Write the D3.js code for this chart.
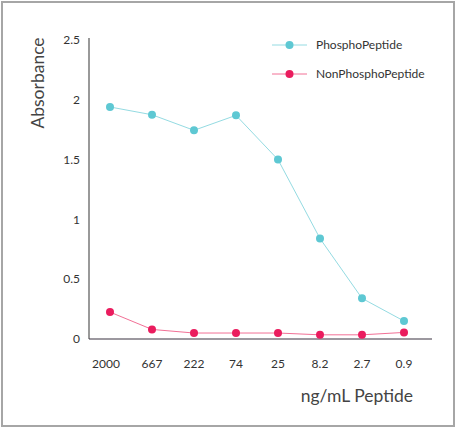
<!DOCTYPE html>
<html>
<head>
<meta charset="utf-8">
<script src="https://cdn.jsdelivr.net/npm/d3@7"></script>
<style>
  body { margin: 0; background: #fff; }
  svg { display: block; font-family: Lato, "Open Sans", sans-serif; }
</style>
</head>
<body>
<div id="chart"></div>
<script>
const concentrations = ["2000", "667", "222", "74", "25", "8.2", "2.7", "0.9"];
const phosphoValues = [1.94, 1.875, 1.745, 1.87, 1.50, 0.84, 0.34, 0.15];
const nonPhosphoValues = [0.225, 0.08, 0.05, 0.05, 0.05, 0.035, 0.035, 0.055];
const yTicks = [0, 0.5, 1, 1.5, 2, 2.5];

const width = 456;
const height = 428;
const margin = { top: 38, right: 24, bottom: 89, left: 89 };

const series = [
    { name: "PhosphoPeptide", values: phosphoValues, dot: "#5ec8d3", line: "#94dbe2" },
    { name: "NonPhosphoPeptide", values: nonPhosphoValues, dot: "#ea1c5e", line: "#f27096" }
];

const svg = d3.select("#chart")
    .append("svg")
    .attr("width", width)
    .attr("height", height);

// outer frame
svg.append("rect")
    .attr("x", 2)
    .attr("y", 2)
    .attr("width", width - 4)
    .attr("height", height - 4)
    .attr("fill", "none")
    .attr("stroke", "#a6a6a6")
    .attr("stroke-width", 2);

const x = d3.scalePoint()
    .domain(concentrations)
    .range([margin.left + 21, width - margin.right - 28]);

const y = d3.scaleLinear()
    .domain([0, 2.5])
    .range([height - margin.bottom, margin.top + 2]);

// axes
svg.append("line")
    .attr("x1", margin.left)
    .attr("x2", margin.left)
    .attr("y1", margin.top)
    .attr("y2", height - margin.bottom)
    .attr("stroke", "#555")
    .attr("stroke-width", 1.2);

svg.append("line")
    .attr("x1", margin.left)
    .attr("x2", width - margin.right)
    .attr("y1", height - margin.bottom)
    .attr("y2", height - margin.bottom)
    .attr("stroke", "#3a3340")
    .attr("stroke-width", 1.2);

svg.selectAll(".ytick")
    .data(yTicks)
    .enter()
    .append("text")
    .attr("class", "ytick")
    .attr("x", margin.left - 9)
    .attr("y", (d) => y(d))
    .attr("dy", "0.35em")
    .attr("text-anchor", "end")
    .style("font-size", "12px")
    .attr("fill", "#333")
    .text((d) => d);

svg.selectAll(".xtick")
    .data(concentrations)
    .enter()
    .append("text")
    .attr("class", "xtick")
    .attr("x", (d) => x(d) - (d === "2000" ? 4 : 0))
    .attr("y", 364)
    .attr("dy", "0.35em")
    .attr("text-anchor", "middle")
    .style("font-size", "12px")
    .attr("fill", "#333")
    .text((d) => d);

svg.append("text")
    .attr("transform", "rotate(-90)")
    .attr("x", -83)
    .attr("y", 38)
    .attr("dy", "0.35em")
    .attr("text-anchor", "middle")
    .style("font-size", "17.5px")
    .attr("fill", "#444")
    .text("Absorbance");

svg.append("text")
    .attr("x", 413)
    .attr("y", 396)
    .attr("dy", "0.35em")
    .attr("text-anchor", "end")
    .style("font-size", "17.5px")
    .attr("fill", "#444")
    .text("ng/mL Peptide");

// lines and dots
const line = d3.line()
    .x((d, i) => x(concentrations[i]))
    .y((d) => y(d));

series.forEach((s) => {
    svg.append("path")
        .datum(s.values)
        .attr("fill", "none")
        .attr("stroke", s.line)
        .attr("stroke-width", 1)
        .attr("d", line);

    svg.selectAll(null)
        .data(s.values)
        .enter()
        .append("circle")
        .attr("cx", (d, i) => x(concentrations[i]))
        .attr("cy", (d) => y(d))
        .attr("r", 4)
        .attr("fill", s.dot);
});

// legend
const legend = svg.append("g").attr("transform", "translate(272, 45)");

series.forEach((s, i) => {
    const g = legend.append("g").attr("transform", `translate(0, ${i * 29})`);
    g.append("line")
        .attr("x1", 0)
        .attr("x2", 35)
        .attr("stroke", s.line)
        .attr("stroke-width", 1);
    g.append("circle")
        .attr("cx", 17.5)
        .attr("r", 4)
        .attr("fill", s.dot);
    g.append("text")
        .attr("x", 44)
        .attr("dy", "0.35em")
        .style("font-size", "12px")
        .attr("fill", "#333")
        .text(s.name);
});
</script>
</body>
</html>
